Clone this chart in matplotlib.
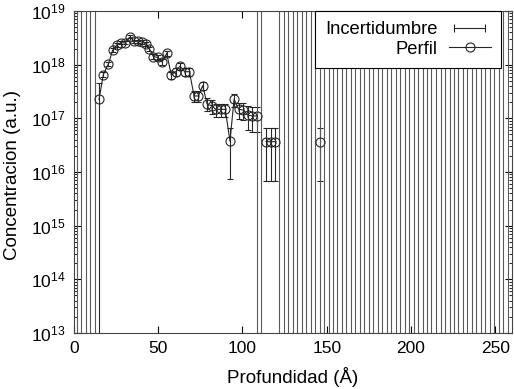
import numpy as np
import matplotlib
matplotlib.use('Agg')
import matplotlib.pyplot as plt
from matplotlib.lines import Line2D
from matplotlib.legend_handler import HandlerLine2D
from matplotlib.ticker import LogLocator, NullFormatter, FixedLocator

plt.rcParams['font.family'] = ['Liberation Sans', 'DejaVu Sans']

# Measured profile points: depth (Å), concentration (a.u.), uncertainty
prof_depth = [14.85, 17.4, 20.4, 23.0, 25.4, 27.9, 30.3, 33.3, 35.6, 38.2,
              40.6, 42.8, 44.7, 47.1, 49.7, 52.3, 55.0, 57.8, 60.4, 62.9,
              65.7, 68.5, 71.3, 73.8, 76.4, 79.0, 81.8, 84.3, 87.1, 89.8,
              92.6, 95.0, 97.8, 100.4, 103.2, 105.7, 108.5,
              114.0, 116.8, 119.5, 145.9]
prof_conc = [2.26e17, 6.5e17, 1.03e18, 1.87e18, 2.32e18, 2.56e18, 2.56e18, 3.32e18, 2.72e18, 2.72e18,
             2.64e18, 2.43e18, 1.99e18, 1.41e18, 1.37e18, 1.12e18, 1.63e18, 6.34e17, 7.4e17, 9.4e17,
             7.4e17, 7.4e17, 2.61e17, 2.61e17, 4.06e17, 1.85e17, 1.70e17, 1.47e17, 1.47e17, 1.47e17,
             3.73e16, 2.26e17, 1.47e17, 1.43e17, 1.15e17, 1.11e17, 1.11e17,
             3.67e16, 3.67e16, 3.67e16, 3.67e16]
prof_err = [2.3e17, 0.7e17, 1.0e17, 1.5e17, 1.7e17, 1.8e17, 1.8e17, 2.2e17, 2.0e17, 2.0e17,
            2.0e17, 1.9e17, 1.7e17, 1.4e17, 1.4e17, 1.3e17, 1.6e17, 1.0e17, 1.2e17, 1.3e17,
            1.2e17, 1.2e17, 0.6e17, 0.6e17, 0.75e17, 0.5e17, 0.5e17, 0.4e17, 0.4e17, 0.4e17,
            3.0e16, 0.6e17, 0.5e17, 0.5e17, 0.55e17, 0.55e17, 0.55e17,
            3.0e16, 3.0e16, 3.0e16, 3.0e16]

# Depths with zero concentration and uncertainty beyond the plotted range
nodata_depth = [1.6, 4.3, 6.9, 9.6, 12.2, 108.5, 111.1,
                121.8, 124.5, 127.1, 129.8, 132.4, 135.1, 137.8, 140.4, 143.1, 145.9,
                148.4, 151.1, 153.7, 156.4, 159.0, 161.7, 164.4, 167.0, 169.7, 172.3,
                175.0, 177.7, 180.3, 183.0, 185.6, 188.3, 191.0, 193.6, 196.3, 198.9,
                201.6, 204.3, 206.9, 209.6, 212.2, 214.9, 217.6, 220.2, 222.9, 225.5,
                228.2, 230.9, 233.5, 236.2, 238.8, 241.5, 244.2, 246.8, 249.5, 252.1,
                254.8, 257.5]
nodata_err = 1e21

x_ticks = [0, 50, 100, 150, 200, 250]

fig = plt.figure(figsize=(5.14, 3.89), dpi=100)
ax = fig.add_axes([74/514, 1 - 333/389, 438/514, 322/389])
ax.set_yscale('log')

lc = '#262626'
nc = '#5a5a5a'
# uncertainty bars
ax.errorbar(prof_depth, prof_conc, yerr=prof_err, fmt='none', ecolor=lc,
            elinewidth=0.8, capsize=2.5, capthick=0.8, zorder=2)
nd = np.array(nodata_depth)
ax.errorbar(nd, np.zeros_like(nd), yerr=np.full_like(nd, nodata_err), fmt='none',
            ecolor=nc, elinewidth=0.8, capsize=2.5, capthick=0.8, zorder=2)

# profile line, broken where there is no data
all_d = np.concatenate([np.array(prof_depth), nd])
all_c = np.concatenate([np.array(prof_conc), np.full_like(nd, np.nan)])
order = np.argsort(all_d, kind='stable')
ax.plot(all_d[order], all_c[order], color=lc, lw=0.8, marker='o', mfc='none',
        mec=lc, ms=6.5, mew=0.8, zorder=3)

ax.set_xlim(0, 260)
ax.set_ylim(1e13, 1e19)
ax.xaxis.set_major_locator(FixedLocator(x_ticks))
ax.yaxis.set_major_locator(LogLocator(base=10, numticks=20))
ax.yaxis.set_minor_locator(LogLocator(base=10, subs=np.arange(2, 10), numticks=20))
ax.yaxis.set_minor_formatter(NullFormatter())

ax.tick_params(which='major', direction='in', top=True, right=True, length=5, width=0.8,
               labelsize=12.5, colors='black')
ax.tick_params(which='minor', direction='in', top=True, right=True, length=2.5, width=0.6)
ax.tick_params(axis='x', pad=6)
ax.tick_params(axis='y', pad=6)
for s in ax.spines.values():
    s.set_linewidth(0.8)
    s.set_color('#444444')

ax.set_xlabel('Profundidad (Å)', fontsize=13.5)
ax.set_ylabel('Concentracion (a.u.)', fontsize=13.5)
ax.xaxis.set_label_coords(0.5, -0.105)
ax.yaxis.set_label_coords(-0.122, 0.49)

h1 = Line2D([], [], color=lc, lw=0.8, marker='|', ms=6, mew=0.8)
h2 = Line2D([], [], color=lc, lw=0.8, marker='o', mfc='none', mec=lc, ms=6.5, mew=0.8)
leg = ax.legend([h1, h2], ['Incertidumbre', 'Perfil'],
                handler_map={h1: HandlerLine2D(numpoints=2), h2: HandlerLine2D(numpoints=1)},
                loc='upper right', bbox_to_anchor=(0.975, 1.0), borderaxespad=0,
                markerfirst=False, frameon=True, fancybox=False, edgecolor='black',
                framealpha=1, facecolor='white', handlelength=2.3, handletextpad=0.6,
                labelspacing=0.15, borderpad=0.55, fontsize=13.2)
leg.get_frame().set_linewidth(0.8)
leg.set_zorder(10)

fig.savefig('out.png', dpi=100)
